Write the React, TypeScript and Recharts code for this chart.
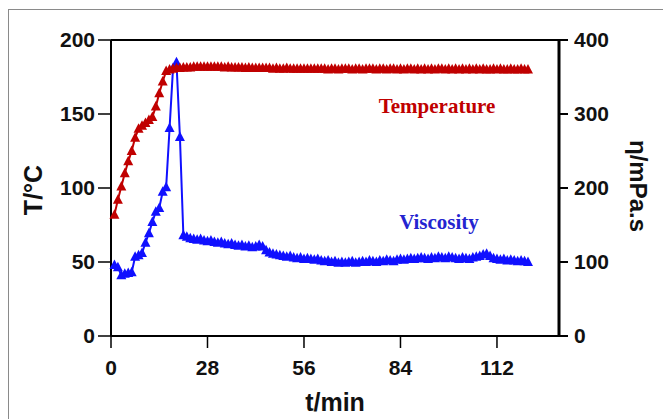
import * as React from "react";
import { LineChart, Line, XAxis, YAxis, ReferenceLine } from "recharts";

// time points, min
const times = [
  1, 2, 3, 4, 5, 6, 7, 8, 9, 10, 11, 12, 13, 14, 15, 16, 17, 18, 19, 20,
  21, 22, 23, 24, 25, 26, 27, 28, 29, 30, 31, 32, 33, 34, 35, 36, 37, 38, 39, 40,
  41, 42, 43, 44, 45, 46, 47, 48, 49, 50, 51, 52, 53, 54, 55, 56, 57, 58, 59, 60,
  61, 62, 63, 64, 65, 66, 67, 68, 69, 70, 71, 72, 73, 74, 75, 76, 77, 78, 79, 80,
  81, 82, 83, 84, 85, 86, 87, 88, 89, 90, 91, 92, 93, 94, 95, 96, 97, 98, 99, 100,
  101, 102, 103, 104, 105, 106, 107, 108, 109, 110, 111, 112, 113, 114, 115, 116, 117, 118, 119, 120,
  121,
];

// temperature, °C (left axis)
const temperature = [
  82, 92, 101, 110, 118, 125, 134, 140, 142, 144, 146, 148, 155, 164, 172, 179,
  180, 180.5, 181, 181, 181.5, 181.5, 181.5, 182, 182, 182, 182, 182, 182, 182,
  182, 182, 181.5, 182, 181.5, 181.5, 181.5, 181.5, 181, 181.5, 181, 181, 181, 181, 181,
  181, 180.5, 181, 180.5, 180.5, 181, 180.5, 180.5, 180.5, 180.5, 180.5, 180.5, 180.5, 180.5, 180.5,
  180.5, 180.5, 180, 180.5, 180.5, 180, 180.5, 180.5, 180.5, 180, 180.5, 180.5, 180, 180.5, 180.5,
  180.5, 180, 180.5, 180.5, 180, 180.5, 180.5, 180, 180.5, 180, 180.5, 180.5, 180, 180.5, 180,
  180.5, 180, 180.5, 180, 180.5, 180.5, 180, 180.5, 180, 180.5, 180, 180.5, 180, 180.5, 180,
  180.5, 180, 180.5, 180, 180, 180.5, 180, 180.5, 180, 180, 180.5, 180, 180, 180.5, 180, 180,
];

// viscosity, mPa.s (right axis)
const viscosity = [
  96, 93, 82, 84, 85, 86, 107, 109, 112, 126, 139, 154, 168, 173, 195, 201,
  281, 362, 370, 269, 136,
  134, 132, 131, 130, 131, 129, 128, 129, 127,
  126, 127, 125, 124, 125, 123, 122, 123, 121, 122, 120, 121, 123, 121,
  116, 113, 111, 110, 109, 108, 107, 108, 106, 105, 106, 104, 105, 104, 103, 104,
  102, 101, 102, 100, 101, 99, 100, 99, 100, 101, 99, 100, 101, 100, 102, 101, 100, 102, 101, 103,
  102, 101, 103, 104, 103, 104, 105, 104, 105, 106, 105, 104, 106, 105, 107, 106, 105, 107, 106, 105,
  104, 106, 105, 104, 106, 107, 108, 110, 111, 108, 105, 104, 103, 104, 102, 103, 102, 101, 102, 101, 100,
];

const xTicks = [0, 28, 56, 84, 112];
const leftTicks = [0, 50, 100, 150, 200];
const rightTicks = [0, 100, 200, 300, 400];

const data = times.map((t, i) => ({ t, temp: temperature[i], visc: viscosity[i] }));

const RED = "#c00000";
const BLUE = "#1010ff";

const tickFont = {
  fontSize: 21,
  fontWeight: 700,
  fill: "#111",
  fontFamily: "'Liberation Sans', Arial, sans-serif",
};

function triangle(color: string) {
  return (props: any) => {
    const { cx, cy, index } = props;
    if (cx == null || cy == null) return <g key={index} />;
    return (
      <polygon
        key={index}
        points={`${cx},${cy - 5.5} ${cx - 5},${cy + 4} ${cx + 5},${cy + 4}`}
        fill={color}
      />
    );
  };
}

const titleStyle: React.CSSProperties = {
  position: "absolute",
  whiteSpace: "nowrap",
  fontFamily: "'Liberation Sans', Arial, sans-serif",
  fontWeight: 700,
  color: "#111",
};

export default function App() {
  return (
    <div
      style={{
        position: "absolute",
        left: 0,
        top: 0,
        width: 663,
        height: 419,
        overflow: "hidden",
        background: "#fff",
      }}
    >
      <div
        style={{
          position: "absolute",
          left: 8,
          top: 9,
          width: 700,
          height: 500,
          border: "1px solid #8a8a8a",
        }}
      />
      <LineChart
        width={663}
        height={419}
        data={data}
        margin={{ top: 40, right: 0, bottom: 0, left: 0 }}
      >
        <XAxis
          dataKey="t"
          type="number"
          domain={[0, 130]}
          ticks={xTicks}
          height={83}
          tickSize={12}
          tickMargin={12}
          tick={tickFont}
          axisLine={{ stroke: "#000", strokeWidth: 2 }}
          tickLine={{ stroke: "#000", strokeWidth: 1.5 }}
        />
        <YAxis
          yAxisId="left"
          domain={[0, 200]}
          ticks={leftTicks}
          width={111}
          tickSize={13}
          tickMargin={3}
          tick={tickFont}
          axisLine={{ stroke: "#000", strokeWidth: 2 }}
          tickLine={{ stroke: "#000", strokeWidth: 1.5 }}
        />
        <YAxis
          yAxisId="right"
          orientation="right"
          domain={[0, 400]}
          ticks={rightTicks}
          width={104}
          tickSize={9}
          tickMargin={6}
          tick={tickFont}
          axisLine={{ stroke: "#000", strokeWidth: 3 }}
          tickLine={{ stroke: "#000", strokeWidth: 2 }}
        />
        <ReferenceLine yAxisId="left" y={200} stroke="#000" strokeWidth={2} />
        <Line
          yAxisId="right"
          dataKey="visc"
          type="linear"
          stroke={BLUE}
          strokeWidth={2}
          dot={triangle(BLUE)}
          isAnimationActive={false}
        />
        <Line
          yAxisId="left"
          dataKey="temp"
          type="linear"
          stroke={RED}
          strokeWidth={2}
          dot={triangle(RED)}
          isAnimationActive={false}
        />
      </LineChart>
      <div
        style={{
          ...titleStyle,
          fontSize: 25,
          left: 33,
          top: 190,
          transform: "translate(-50%, -50%) rotate(-90deg)",
        }}
      >
        T/°C
      </div>
      <div
        style={{
          ...titleStyle,
          fontSize: 24,
          left: 638,
          top: 186,
          transform: "translate(-50%, -50%) rotate(90deg)",
        }}
      >
        η/mPa.s
      </div>
      <div
        style={{
          ...titleStyle,
          fontSize: 25,
          left: 335,
          top: 402,
          transform: "translate(-50%, -50%)",
        }}
      >
        t/min
      </div>
      <div
        style={{
          position: "absolute",
          left: 437,
          top: 106,
          transform: "translate(-50%, -50%)",
          whiteSpace: "nowrap",
          fontFamily: "'Liberation Serif', 'Times New Roman', serif",
          fontWeight: 700,
          fontSize: 21,
          color: RED,
        }}
      >
        Temperature
      </div>
      <div
        style={{
          position: "absolute",
          left: 439,
          top: 222,
          transform: "translate(-50%, -50%)",
          whiteSpace: "nowrap",
          fontFamily: "'Liberation Serif', 'Times New Roman', serif",
          fontWeight: 700,
          fontSize: 21,
          color: "#2424d0",
        }}
      >
        Viscosity
      </div>
    </div>
  );
}
